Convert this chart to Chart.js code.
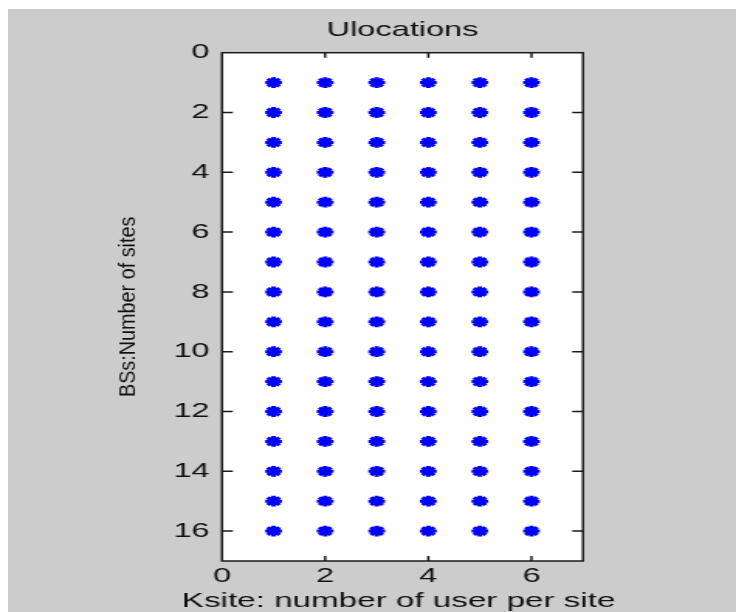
<!DOCTYPE html>
<html lang="en">
<head>
<meta charset="UTF-8">
<title>Ulocations</title>
<script src="https://cdn.jsdelivr.net/npm/chart.js@4.4.1/dist/chart.umd.min.js"></script>
<style>
  html, body { margin: 0; padding: 0; background: #fff; }
  body { width: 736px; height: 612px; position: relative; overflow: hidden; }
  #fondo { position: absolute; left: 8px; top: 9px; right: 0; bottom: 0; background: #cccccc; }
  /* la figura original esta estirada en horizontal: se dibuja en 475px y se estira a 736px */
  #lienzo { position: absolute; left: 0; top: 0; width: 475px; height: 612px;
            transform-origin: 0 0; transform: scaleX(1.5495); }
</style>
</head>
<body>
<div id="fondo"></div>
<div id="lienzo"><canvas id="myChart"></canvas></div>
<script>
// datos: usuarios por sitio (eje x) y numero de sitios (eje y)
const usuarios = [1, 2, 3, 4, 5, 6];
const sitios = [1, 2, 3, 4, 5, 6, 7, 8, 9, 10, 11, 12, 13, 14, 15, 16];
const ticksX = [0, 2, 4, 6];
const ticksY = [0, 2, 4, 6, 8, 10, 12, 14, 16];

const titulo = 'Ulocations';
const tituloX = 'Ksite: number of user per site';
const tituloY = 'BSs:Number of sites';

// cada usuario en cada sitio
const puntos = [];
sitios.forEach(s => usuarios.forEach(u => puntos.push({x: u, y: s})));

const fuente = 'Liberation Sans, Arial, sans-serif';
const azul = '#0000ff';
const tinta = '#111111';

// fondo blanco del area del grafico
const fondoPlot = {
  id: 'fondoPlot',
  beforeDraw(chart) {
    const {ctx, chartArea: a} = chart;
    ctx.save();
    ctx.fillStyle = '#ffffff';
    ctx.fillRect(a.left, a.top, a.right - a.left, a.bottom - a.top);
    ctx.restore();
  }
};

// caja con marcas hacia dentro, como en matlab
const marco = {
  id: 'marco',
  afterDatasetsDraw(chart) {
    const {ctx, chartArea: a, scales: {x, y}} = chart;
    ctx.save();
    ctx.strokeStyle = '#1a1a1a';
    ctx.lineWidth = 1.5;
    ctx.beginPath();
    x.ticks.forEach(t => {
      const px = x.getPixelForValue(t.value);
      if (px <= a.left + 1) return;
      ctx.moveTo(px, a.top); ctx.lineTo(px, a.top + 5);
      ctx.moveTo(px, a.bottom); ctx.lineTo(px, a.bottom - 5);
    });
    y.ticks.forEach(t => {
      const py = y.getPixelForValue(t.value);
      if (py <= a.top + 1) return;
      ctx.moveTo(a.left, py); ctx.lineTo(a.left + 7, py);
      ctx.moveTo(a.right, py); ctx.lineTo(a.right - 7, py);
    });
    ctx.stroke();
    ctx.strokeRect(a.left, a.top, a.right - a.left, a.bottom - a.top);
    ctx.restore();
  }
};

// titulos de los ejes: el de y mas estrecho que el resto
const etiquetas = {
  id: 'etiquetas',
  afterDraw(chart) {
    const {ctx, chartArea: a} = chart;
    const cx = (a.left + a.right) / 2;
    const cy = (a.top + a.bottom) / 2;
    ctx.save();
    ctx.fillStyle = tinta;
    ctx.textAlign = 'center';
    ctx.textBaseline = 'middle';
    ctx.font = '21px ' + fuente;

    ctx.save();
    ctx.translate(cx - 2.5, 601.5);
    ctx.scale(1.02, 1);
    ctx.fillText(tituloX, 0, 0);
    ctx.restore();

    ctx.translate(82.6, cy);
    ctx.rotate(-Math.PI / 2);
    ctx.scale(0.9, 0.645);
    ctx.font = '22px ' + fuente;
    ctx.fillText(tituloY, 0, 0);
    ctx.restore();
  }
};

const ctx = document.getElementById('myChart').getContext('2d');

const config = {
  type: 'scatter',
  data: {
    datasets: [
      {
        label: 'relleno',
        data: puntos,
        pointStyle: 'circle',
        pointRadius: 4,
        pointBorderWidth: 0,
        backgroundColor: azul,
        borderColor: azul
      },
      {
        label: tituloY,
        data: puntos,
        pointStyle: 'star',
        pointRadius: 5.4,
        pointBorderWidth: 3,
        backgroundColor: azul,
        borderColor: azul
      }
    ]
  },
  options: {
    responsive: true,
    maintainAspectRatio: false,
    animation: false,
    events: [],
    layout: { padding: { left: 0, right: 98.75, top: 0, bottom: 0 } },
    plugins: {
      legend: { display: false },
      tooltip: { enabled: false },
      title: {
        display: true,
        fullSize: false,
        text: titulo,
        color: tinta,
        font: { family: fuente, size: 21, weight: 'normal', lineHeight: 1.2 },
        padding: { top: 18, bottom: 9.5 }
      }
    },
    scales: {
      x: {
        type: 'linear',
        min: 0,
        max: 7,
        grid: { display: false, drawTicks: false },
        border: { display: false },
        afterBuildTicks: s => { s.ticks = ticksX.map(v => ({value: v})); },
        afterFit: s => { s.height = 51; },
        ticks: {
          color: tinta,
          padding: 3,
          maxRotation: 0,
          font: { family: fuente, size: 21, lineHeight: 1.2 }
        }
      },
      y: {
        type: 'linear',
        reverse: true,
        min: 0,
        max: 17,
        grid: { display: false, drawTicks: false },
        border: { display: false },
        afterBuildTicks: s => { s.ticks = ticksY.map(v => ({value: v})); },
        afterFit: s => { s.width = 143.27; },
        ticks: {
          color: tinta,
          padding: 8,
          font: { family: fuente, size: 21 }
        }
      }
    }
  },
  plugins: [fondoPlot, marco, etiquetas]
};

const myChart = new Chart(ctx, config);
</script>
</body>
</html>
